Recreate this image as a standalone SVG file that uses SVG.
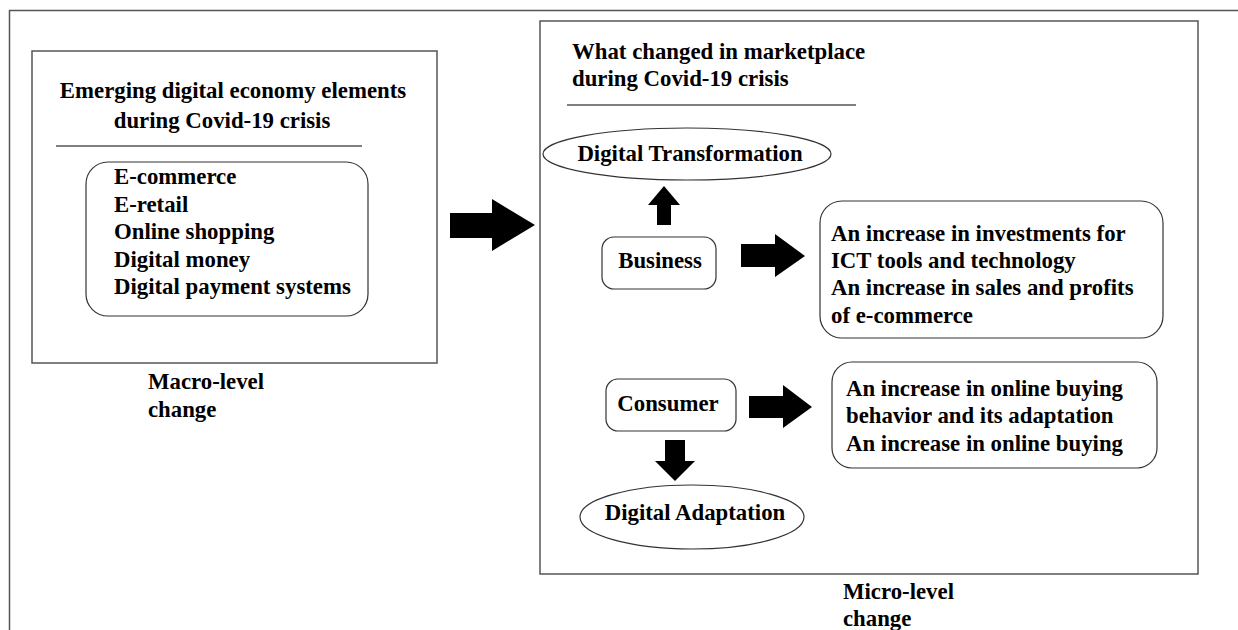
<svg xmlns="http://www.w3.org/2000/svg" width="1238" height="630" viewBox="0 0 1238 630">
<style>
.frame{fill:none;stroke:#555;stroke-width:1.5}
.box{fill:#fff;stroke:#333;stroke-width:1.2}
.t{font-family:"Liberation Serif","Times New Roman",serif;font-weight:bold;font-size:22.8px;fill:#000}
.c{text-anchor:middle}
.arr{fill:#000}
</style>
<rect width="1238" height="630" fill="#fff"/>
<path class="frame" d="M9.5 630 V10.5 H1238"/>
<g id="macro">
<rect class="frame" x="32" y="51" width="405" height="312"/>
<text class="t" x="233" y="98" text-anchor="middle">Emerging digital economy elements</text>
<text class="t" x="222" y="128" text-anchor="middle">during Covid-19 crisis</text>
<line class="frame" x1="56" y1="146" x2="362" y2="146"/>
</g>
<g id="elements">
<rect class="box" x="86" y="162" width="282" height="154" rx="22"/>
<text class="t" x="114" y="184">E-commerce</text>
<text class="t" x="114" y="212">E-retail</text>
<text class="t" x="114" y="239">Online shopping</text>
<text class="t" x="114" y="267">Digital money</text>
<text class="t" x="114" y="294">Digital payment systems</text>
</g>
<g id="macro-label">
<text class="t" x="148" y="389">Macro-level</text>
<text class="t" x="148" y="417">change</text>
</g>
<g id="micro">
<rect class="frame" x="540" y="21" width="658" height="553"/>
<text class="t" x="572" y="59">What changed in marketplace</text>
<text class="t" x="572" y="86">during Covid-19 crisis</text>
<line class="frame" x1="567" y1="105" x2="856" y2="105"/>
</g>
<g id="digital-transformation">
<ellipse class="box" cx="687" cy="154" rx="144" ry="26"/>
<text class="t c" x="690" y="161">Digital Transformation</text>
</g>
<g id="business">
<rect class="box" x="602" y="237" width="114" height="52" rx="12"/>
<text class="t c" x="660" y="268">Business</text>
</g>
<g id="business-effects">
<rect class="box" x="820" y="201" width="343" height="137" rx="22"/>
<text class="t" x="831" y="241">An increase in investments for</text>
<text class="t" x="831" y="268">ICT tools and technology</text>
<text class="t" x="831" y="295">An increase in sales and profits</text>
<text class="t" x="831" y="323">of e-commerce</text>
</g>
<g id="consumer">
<rect class="box" x="606" y="379" width="130" height="52" rx="12"/>
<text class="t c" x="668" y="411">Consumer</text>
</g>
<g id="consumer-effects">
<rect class="box" x="832" y="362" width="325" height="106" rx="20"/>
<text class="t" x="846" y="396">An increase in online buying</text>
<text class="t" x="846" y="423">behavior and its adaptation</text>
<text class="t" x="846" y="451">An increase in online buying</text>
</g>
<g id="digital-adaptation">
<ellipse class="box" cx="692" cy="517" rx="112" ry="32"/>
<text class="t c" x="695" y="520">Digital Adaptation</text>
</g>
<g id="micro-label">
<text class="t" x="843" y="599">Micro-level</text>
<text class="t" x="843" y="626">change</text>
</g>
<g id="connectors">
<polygon class="arr" points="450,213 492,213 492,199 535,225 492,251 492,238 450,238"/>
<polygon class="arr" points="657,225 657,205 648,205 664,186 680,205 671,205 671,225"/>
<polygon class="arr" points="741,244 775,244 775,234 805,256 775,277 775,267 741,267"/>
<polygon class="arr" points="749,396 783,396 783,385 812,407 783,428 783,418 749,418"/>
<polygon class="arr" points="665,440 685,440 685,461 695,461 675,481 655,461 665,461"/>
</g>
</svg>
